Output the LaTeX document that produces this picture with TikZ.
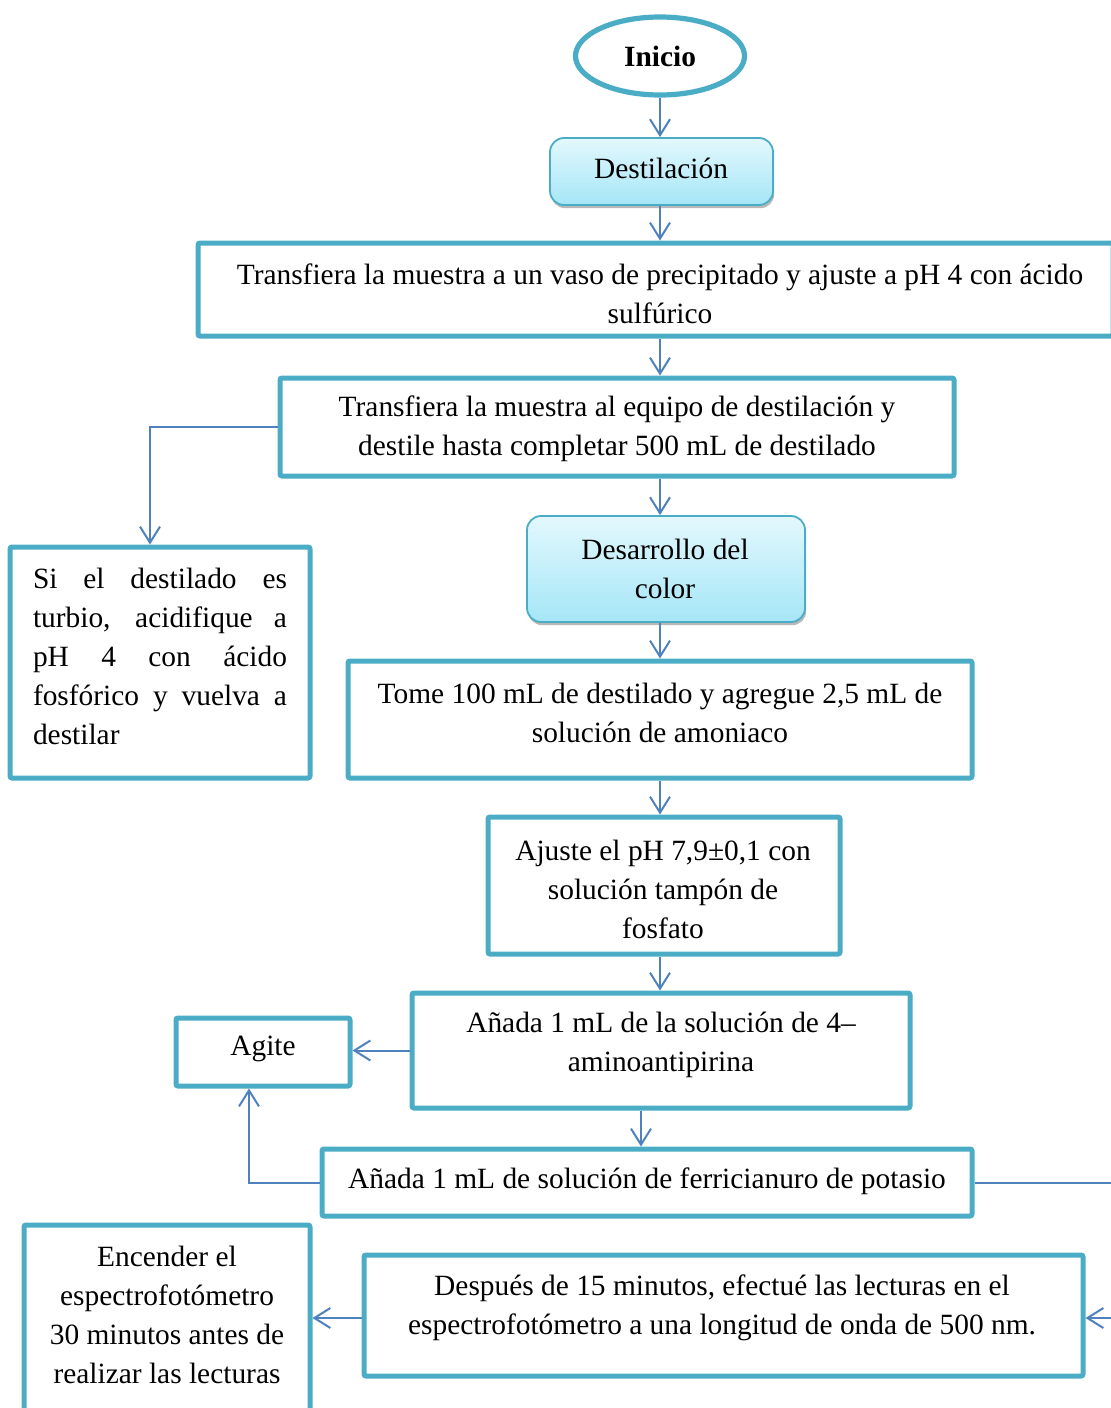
\documentclass[tikz,border=0pt]{standalone}
\usepackage{fontspec}
\setmainfont{Liberation Serif}
\usetikzlibrary{arrows.meta,calc,shadows,fit,shapes.geometric}
\definecolor{frame}{HTML}{4BACC6}
\definecolor{linkblue}{HTML}{4F81BD}
\definecolor{fillTop}{HTML}{E3F8FD}
\definecolor{fillBot}{HTML}{A5E6F7}
\tikzset{
  stepbox/.style={draw=frame, line width=2.5pt, rounded corners=1pt, inner sep=0pt},
  softbox/.style={draw=frame, line width=0.9pt, rounded corners=7pt, inner sep=0pt,
    top color=fillTop, bottom color=fillBot,
    drop shadow={shadow xshift=0.6pt, shadow yshift=-1.6pt, fill=black!35, opacity=0.8}},
  startnode/.style={draw=frame, line width=2.6pt, ellipse, inner sep=0pt,
    minimum width=84.5pt, minimum height=39pt, font=\fontsize{14.7}{19.5}\selectfont\bfseries},
  txt/.style={font=\fontsize{14.7}{19.5}\selectfont, align=center, inner sep=0pt},
  link/.style={draw=linkblue, line width=1pt,
    -{Straight Barb[length=8pt,width=10pt,line width=1pt]}},
}
\begin{document}
\begin{tikzpicture}[x=0.5pt,y=-0.5pt]
\useasboundingbox (0,0) rectangle (1111,1408);
\clip (0,0) rectangle (1111,1408);

% column guides for the connectors
\coordinate (spine) at (660,0);
\coordinate (spinelow) at (641,0);
\coordinate (drop) at (150,0);
\coordinate (rise) at (249,0);
\coordinate (rim) at (1130,0);
\coordinate (lowrow) at (0,1318);

% start
\node[startnode] (ini) at (660,56) {Inicio};

% rounded stage headers
\node[softbox, fit={(550,138) (773,205)}] (dest) {};
\node[txt] (tdest) at (661,168.5) {Destilación};
\node[softbox, fit={(527,516) (805,622)}] (des) {};
\node[txt] (tdes) at (665,569) {Desarrollo del\\color};

% process boxes
\node[stepbox, fit={(198,243) (1113,336)}] (b1) {};
\node[txt] (t1) at (660,293.5) {Transfiera la muestra a un vaso de precipitado y ajuste a pH 4 con ácido\\sulfúrico};

\node[stepbox, fit={(280,378) (954,476)}] (b2) {};
\node[txt] (t2) at (617,428.5) {Transfiera la muestra al equipo de destilación y\\destile hasta completar 500 mL de destilado};

\node[stepbox, fit={(10,547) (310,778)}] (b3) {};
\node[txt, text width=127pt, align=justify] (t3) at (160,656.5)
  {\hyphenpenalty=10000 Si el destilado es\linebreak turbio, acidifique a\linebreak pH 4 con ácido\linebreak fosfórico y vuelva a\linebreak destilar};

\node[stepbox, fit={(348,661) (972,778)}] (b4) {};
\node[txt] (t4) at (660,712.5) {Tome 100 mL de destilado y agregue 2,5 mL de\\solución de amoniaco};

\node[stepbox, fit={(488,817) (840,954)}] (b5) {};
\node[txt] (t5) at (663,889.5) {Ajuste el pH 7,9±0,1 con\\solución tampón de\\fosfato};

\node[stepbox, fit={(412,993) (910,1108)}] (b6) {};
\node[txt] (t6) at (661,1044.5) {Añada 1 mL de la solución de 4–\\aminoantipirina};

\node[stepbox, fit={(176,1018) (350,1086)}] (agite) {};
\node[txt] (tagite) at (263,1049) {Agite};

\node[stepbox, fit={(322,1149) (972,1216)}] (b7) {};
\node[txt] (t7) at (647,1181) {Añada 1 mL de solución de ferricianuro de potasio};

\node[stepbox, fit={(364,1255) (1083,1376)}] (b8) {};
\node[txt] (t8) at (722,1307.5) {Después de 15 minutos, efectué las lecturas en el\\espectrofotómetro a una longitud de onda de 500 nm.};

\node[stepbox, fit={(24,1225) (310,1440)}] (b9) {};
\node[txt] (t9) at (167,1315) {Encender el\\espectrofotómetro\\30 minutos antes de\\realizar las lecturas};

% main flow
\draw[link] (spine |- ini.south) -- (spine |- dest.north);
\draw[link] (spine |- dest.south) -- (spine |- b1.north);
\draw[link] (spine |- b1.south) -- (spine |- b2.north);
\draw[link] (spine |- b2.south) -- (spine |- des.north);
\draw[link] (spine |- des.south) -- (spine |- b4.north);
\draw[link] (spine |- b4.south) -- (spine |- b5.north);
\draw[link] (spine |- b5.south) -- (spine |- b6.north);
\draw[link] (spinelow |- b6.south) -- (spinelow |- b7.north);

% side branches
\draw[link] (b2.west) -| (drop |- b3.north);
\draw[link] (b6.west) -- (agite.east |- b6.west);
\draw[link] (b7.west) -| (rise |- agite.south);
\draw[link] (b7.east) -| (rim |- lowrow) -- (b8.east |- lowrow);
\draw[link] (b8.west |- lowrow) -- (b9.east |- lowrow);
\end{tikzpicture}
\end{document}
